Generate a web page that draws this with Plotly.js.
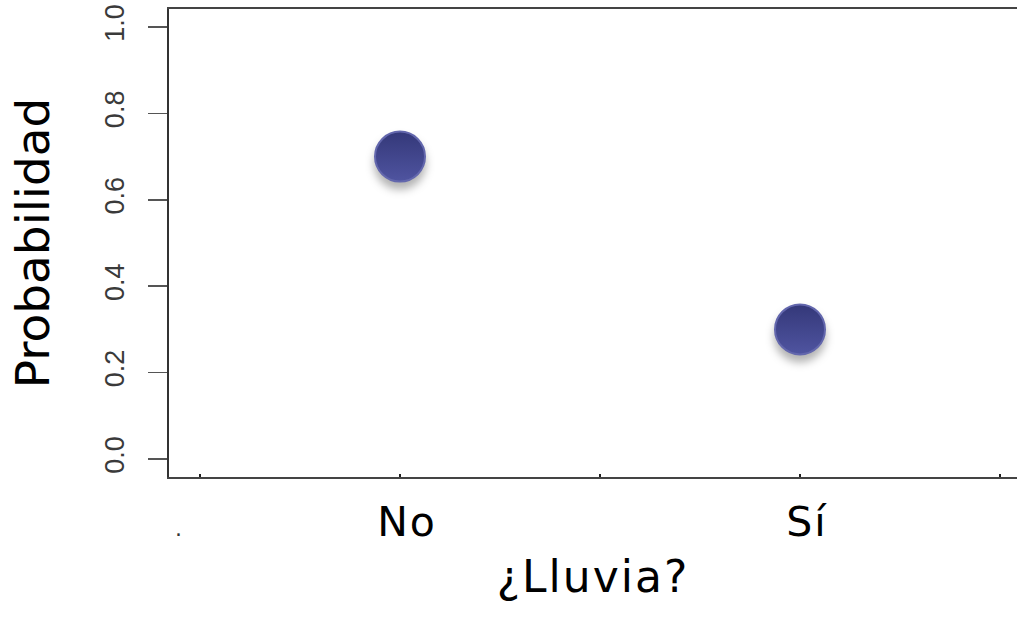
<!DOCTYPE html>
<html>
<head>
<meta charset="utf-8">
<script src="https://cdn.plot.ly/plotly-3.0.1.min.js"></script>
<style>
  html, body { margin: 0; padding: 0; background: #fff; }
  #chart { width: 1017px; height: 627px; }
  .scatterlayer .point { filter: drop-shadow(0px 7px 4px rgba(0,0,0,0.30)); }
  .xtitle { letter-spacing: 2px; }
  .xtick text { letter-spacing: 2px; }
</style>
</head>
<body>
<div id="chart"></div>
<script>
// Data
const categories = ["No", "Sí"];
const probabilities = [0.70, 0.30];
const yTickValues = [0, 0.2, 0.4, 0.6, 0.8, 1.0];
const yTickLabels = ["0.0", "0.2", "0.4", "0.6", "0.8", "1.0"];
const xTitle = "¿Lluvia?";
const yTitle = "Probabilidad";

// category positions 1..n (R-style), with extra tick marks half-way
const xPos = categories.map((c, i) => i + 1);
const xTickVals = [];
const xTickText = [];
for (let i = 0; i < categories.length; i++) {
  xTickVals.push(xPos[i] - 0.5, xPos[i]);
  xTickText.push("", categories[i]);
}
xTickVals.push(xPos[xPos.length - 1] + 0.5);
xTickText.push("");

const trace = {
  x: xPos,
  y: probabilities,
  type: "scatter",
  mode: "markers",
  marker: {
    size: 50,
    color: "#343879",
    gradient: { type: "vertical", color: "#4f54a0" },
    line: { color: "#6367ad", width: 2 }
  },
  hoverinfo: "skip"
};

const layout = {
  width: 1017,
  height: 627,
  margin: { l: 169, r: 0, t: 9, b: 150, autoexpand: false },
  paper_bgcolor: "#ffffff",
  plot_bgcolor: "#ffffff",
  showlegend: false,
  xaxis: {
    range: [0.4225, 2.5425],
    tickmode: "array",
    tickvals: xTickVals,
    ticktext: xTickText,
    ticks: "inside",
    ticklen: 3,
    tickwidth: 2,
    tickcolor: "#222",
    showgrid: false,
    zeroline: false,
    showline: true,
    linecolor: "#444",
    linewidth: 2,
    mirror: true,
    tickfont: { family: "DejaVu Sans", size: 41, color: "#000" },
    ticklabelstandoff: 8,
    ticklabelshift: 7,
    title: { text: xTitle, font: { family: "DejaVu Sans", size: 44, color: "#000" }, standoff: 16 }
  },
  yaxis: {
    range: [-0.0417, 1.0417],
    tickmode: "array",
    tickvals: yTickValues,
    ticktext: yTickLabels,
    ticks: "outside",
    ticklen: 19,
    tickwidth: 1.5,
    tickcolor: "#555",
    tickangle: -90,
    showgrid: false,
    zeroline: false,
    showline: true,
    linecolor: "#333",
    linewidth: 2,
    mirror: true,
    tickfont: { family: "Liberation Sans, Arial", size: 27, color: "#3a3a3a" },
    ticklabelstandoff: 13,
    title: { text: yTitle, font: { family: "DejaVu Sans", size: 47, color: "#000" }, standoff: 36 }
  },
  annotations: [
    { text: ".", xref: "paper", yref: "paper", x: 0.0052, y: -0.142, showarrow: false,
      font: { family: "DejaVu Sans", size: 22, color: "#333" } }
  ]
};

Plotly.newPlot("chart", [trace], layout, { staticPlot: true, displayModeBar: false });
</script>
</body>
</html>
